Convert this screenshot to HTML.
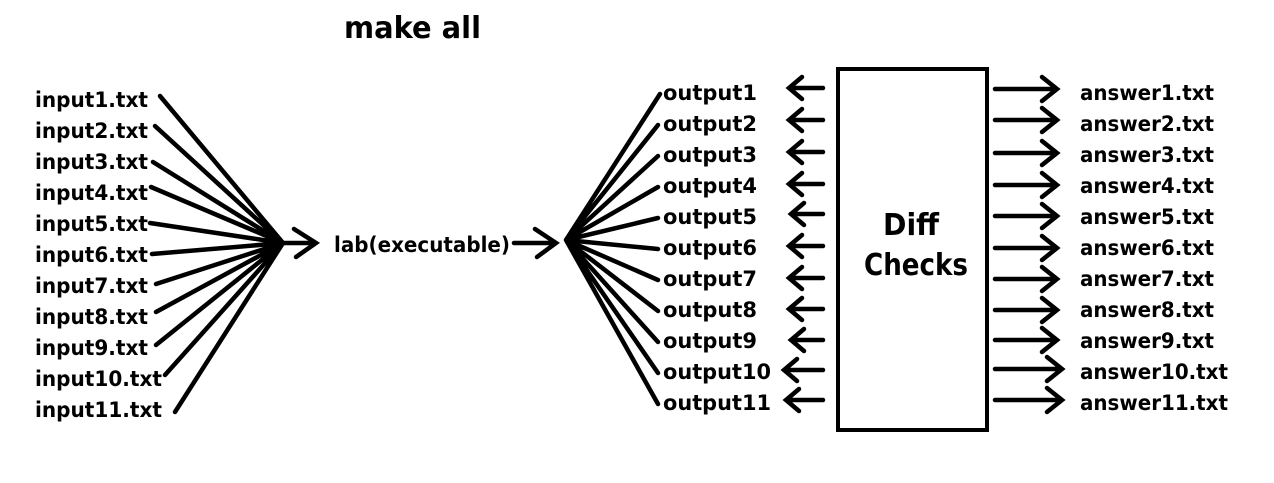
<!DOCTYPE html>
<html><head><style>html,body{margin:0;padding:0;background:#fff}svg{display:block}text{font-family:"DejaVu Sans","Liberation Sans",sans-serif;font-weight:bold;fill:#000}</style></head>
<body>
<svg width="1274" height="483" viewBox="0 0 1274 483">
<text x="344" y="38" font-size="30" textLength="137" lengthAdjust="spacingAndGlyphs">make all</text>
<g font-size="21">
<text x="35" y="107" textLength="113" lengthAdjust="spacingAndGlyphs">input1.txt</text>
<text x="35" y="138" textLength="113" lengthAdjust="spacingAndGlyphs">input2.txt</text>
<text x="35" y="169" textLength="113" lengthAdjust="spacingAndGlyphs">input3.txt</text>
<text x="35" y="200" textLength="113" lengthAdjust="spacingAndGlyphs">input4.txt</text>
<text x="35" y="231" textLength="113" lengthAdjust="spacingAndGlyphs">input5.txt</text>
<text x="35" y="262" textLength="113" lengthAdjust="spacingAndGlyphs">input6.txt</text>
<text x="35" y="293" textLength="113" lengthAdjust="spacingAndGlyphs">input7.txt</text>
<text x="35" y="324" textLength="113" lengthAdjust="spacingAndGlyphs">input8.txt</text>
<text x="35" y="355" textLength="113" lengthAdjust="spacingAndGlyphs">input9.txt</text>
<text x="35" y="386" textLength="127" lengthAdjust="spacingAndGlyphs">input10.txt</text>
<text x="35" y="417" textLength="127" lengthAdjust="spacingAndGlyphs">input11.txt</text>
<text x="334" y="252" textLength="176" lengthAdjust="spacingAndGlyphs">lab(executable)</text>
<text x="663" y="100" textLength="94" lengthAdjust="spacingAndGlyphs">output1</text>
<text x="663" y="131" textLength="94" lengthAdjust="spacingAndGlyphs">output2</text>
<text x="663" y="162" textLength="94" lengthAdjust="spacingAndGlyphs">output3</text>
<text x="663" y="193" textLength="94" lengthAdjust="spacingAndGlyphs">output4</text>
<text x="663" y="224" textLength="94" lengthAdjust="spacingAndGlyphs">output5</text>
<text x="663" y="255" textLength="94" lengthAdjust="spacingAndGlyphs">output6</text>
<text x="663" y="286" textLength="94" lengthAdjust="spacingAndGlyphs">output7</text>
<text x="663" y="317" textLength="94" lengthAdjust="spacingAndGlyphs">output8</text>
<text x="663" y="348" textLength="94" lengthAdjust="spacingAndGlyphs">output9</text>
<text x="663" y="379" textLength="108" lengthAdjust="spacingAndGlyphs">output10</text>
<text x="663" y="410" textLength="108" lengthAdjust="spacingAndGlyphs">output11</text>
<text x="1080" y="100" textLength="134" lengthAdjust="spacingAndGlyphs">answer1.txt</text>
<text x="1080" y="131" textLength="134" lengthAdjust="spacingAndGlyphs">answer2.txt</text>
<text x="1080" y="162" textLength="134" lengthAdjust="spacingAndGlyphs">answer3.txt</text>
<text x="1080" y="193" textLength="134" lengthAdjust="spacingAndGlyphs">answer4.txt</text>
<text x="1080" y="224" textLength="134" lengthAdjust="spacingAndGlyphs">answer5.txt</text>
<text x="1080" y="255" textLength="134" lengthAdjust="spacingAndGlyphs">answer6.txt</text>
<text x="1080" y="286" textLength="134" lengthAdjust="spacingAndGlyphs">answer7.txt</text>
<text x="1080" y="317" textLength="134" lengthAdjust="spacingAndGlyphs">answer8.txt</text>
<text x="1080" y="348" textLength="134" lengthAdjust="spacingAndGlyphs">answer9.txt</text>
<text x="1080" y="379" textLength="148" lengthAdjust="spacingAndGlyphs">answer10.txt</text>
<text x="1080" y="410" textLength="148" lengthAdjust="spacingAndGlyphs">answer11.txt</text>
</g>
<g font-size="30">
<text x="883" y="235" textLength="56" lengthAdjust="spacingAndGlyphs">Diff</text>
<text x="864" y="275" textLength="104" lengthAdjust="spacingAndGlyphs">Checks</text>
</g>
<rect x="838" y="69" width="149" height="361" fill="none" stroke="#000" stroke-width="4"/>
<g stroke="#000" stroke-width="4.5" stroke-linecap="round" fill="none">
<path d="M160 96L283 243M155 126L283 243M153 162L283 243M151 187L283 243M150 223L283 243M152 254L283 243M156 284L283 243M156 312L283 243M156 345L283 243M165 375L283 243M175 412L283 243"/>
<path d="M283 243H316M294 229L316 243L296 257"/>
<path d="M514 243H556M535 229L556 243L537 257"/>
<path d="M566 240L660 94M566 240L658 125M566 240L658 156M566 240L658 187M566 240L658 218M566 240L658 249M566 240L658 280M566 240L658 311M566 240L658 342M566 240L658 373M566 240L658 404"/>
</g>
<g stroke="#000" stroke-width="4.5" stroke-linecap="round" fill="none">
<path d="M823 88H789M802 77L789 88L802 99"/>
<path d="M823 120H789M802 109L789 120L802 131"/>
<path d="M823 152H789M802 141L789 152L802 163"/>
<path d="M823 184H789M802 173L789 184L802 195"/>
<path d="M823 214H791M804 203L791 214L804 225"/>
<path d="M823 246H789M802 235L789 246L802 257"/>
<path d="M823 278H789M802 267L789 278L802 289"/>
<path d="M823 309H789M802 298L789 309L802 320"/>
<path d="M823 340H791M804 329L791 340L804 351"/>
<path d="M823 370H784M797 359L784 370L797 381"/>
<path d="M823 400H786M799 389L786 400L799 411"/>
<path d="M995 89H1057M1042 77L1057 89L1042 101"/>
<path d="M995 120H1057M1042 108L1057 120L1042 132"/>
<path d="M995 153H1057M1042 141L1057 153L1042 165"/>
<path d="M995 185H1057M1042 173L1057 185L1042 197"/>
<path d="M995 216H1057M1042 204L1057 216L1042 228"/>
<path d="M995 248H1057M1042 236L1057 248L1042 260"/>
<path d="M995 279H1057M1042 267L1057 279L1042 291"/>
<path d="M995 310H1057M1042 298L1057 310L1042 322"/>
<path d="M995 340H1057M1042 328L1057 340L1042 352"/>
<path d="M995 369H1062M1047 357L1062 369L1047 381"/>
<path d="M995 400H1062M1047 388L1062 400L1047 412"/>
</g>
</svg>
</body></html>
